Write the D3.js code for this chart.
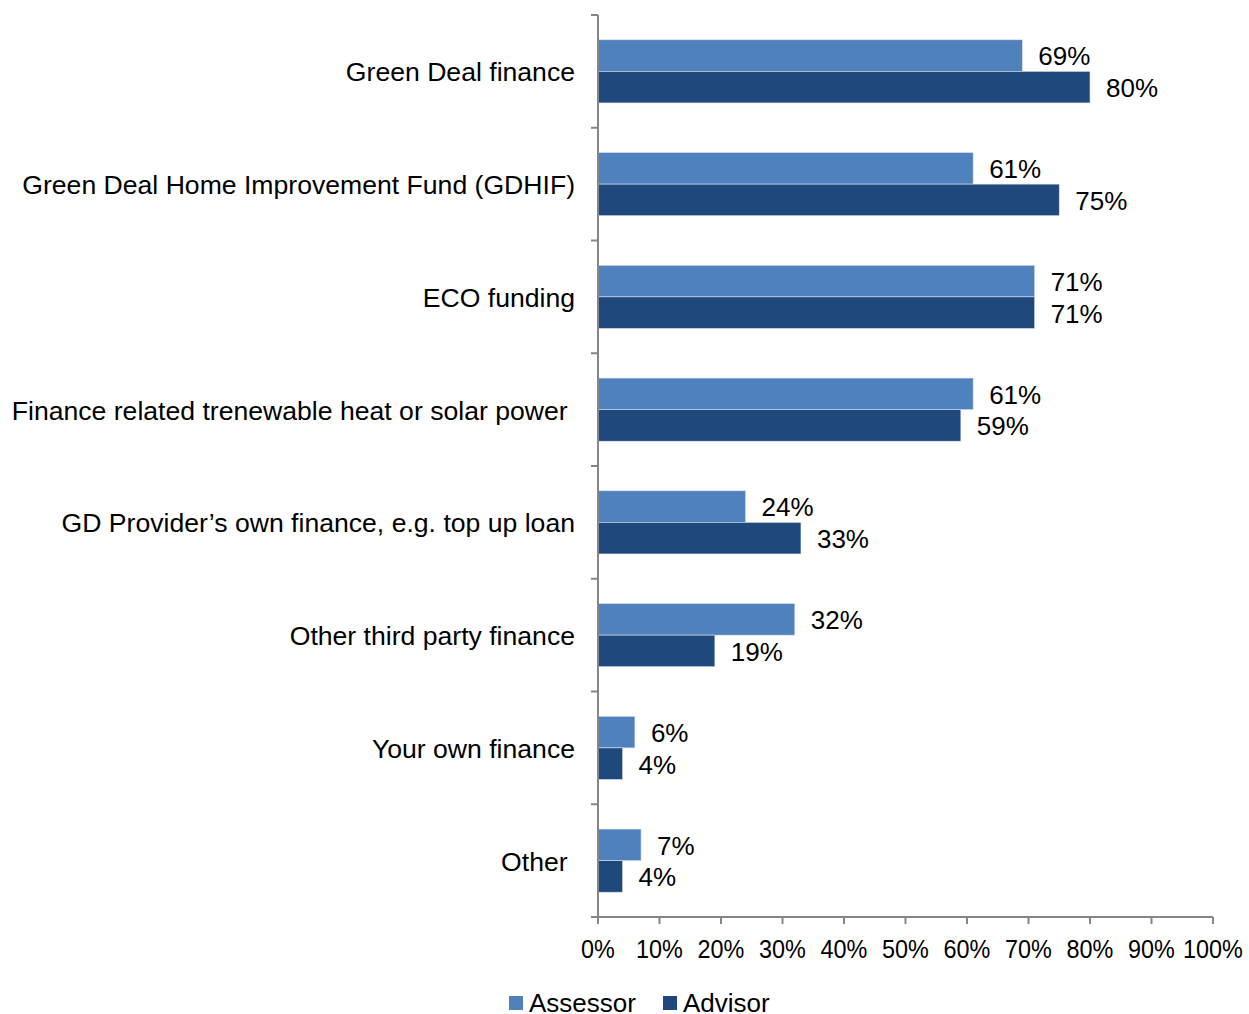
<!DOCTYPE html>
<html lang="en">
<head>
    <meta charset="UTF-8"/>
    <title>Finance options</title>
    <script src="https://d3js.org/d3.v7.min.js"></script>
    <style>
        body { margin: 0; background: #fff; }
        text { font-family: "Liberation Sans", Arial, sans-serif; fill: #000; }
    </style>
</head>
<body>
    <script>
        var w = 1249;
        var h = 1014;

        var categories = [
            "Green Deal finance",
            "Green Deal Home Improvement Fund (GDHIF)",
            "ECO funding",
            "Finance related trenewable heat or solar power ",
            "GD Provider\u2019s own finance, e.g. top up loan",
            "Other third party finance",
            "Your own finance",
            "Other "
        ];
        var seriesNames = ["Assessor", "Advisor"];
        var assessor = [69, 61, 71, 61, 24, 32, 6, 7];
        var advisor = [80, 75, 71, 59, 33, 19, 4, 4];
        var xTicks = [0, 10, 20, 30, 40, 50, 60, 70, 80, 90, 100];
        var colors = ["#4F81BD", "#1F497D"];

        var plotLeft = 598, plotRight = 1213, plotTop = 15, plotBottom = 917;

        var svg = d3.select("body")
                    .append("svg")
                    .attr("width", w)
                    .attr("height", h);

        var xScale = d3.scaleLinear()
                        .domain([0, 100])
                        .range([plotLeft, plotRight]);

        var yScale = d3.scaleBand()
                        .domain(categories)
                        .range([plotTop, plotBottom])
                        .paddingInner(0.44)
                        .paddingOuter(0.22);

        var subScale = d3.scaleBand()
                          .domain(seriesNames)
                          .range([0, yScale.bandwidth()]);

        var rows = categories.map(function(c, i) {
            return { cat: c, values: [assessor[i], advisor[i]] };
        });

        // bars
        var groups = svg.selectAll("g.row")
            .data(rows)
            .enter()
            .append("g")
            .attr("class", "row")
            .attr("transform", function(d) { return "translate(0," + yScale(d.cat) + ")"; });

        groups.selectAll("rect")
            .data(function(d) { return d.values.map(function(v, j) { return { s: seriesNames[j], v: v, j: j }; }); })
            .enter()
            .append("rect")
            .attr("x", xScale(0))
            .attr("y", function(d) { return subScale(d.s); })
            .attr("width", function(d) { return xScale(d.v) - xScale(0); })
            .attr("height", subScale.bandwidth())
            .attr("fill", function(d) { return colors[d.j]; })
            .attr("stroke", "#d9e1ec")
            .attr("stroke-width", 0.6);

        groups.selectAll("text.val")
            .data(function(d) { return d.values.map(function(v, j) { return { s: seriesNames[j], v: v }; }); })
            .enter()
            .append("text")
            .attr("class", "val")
            .attr("x", function(d) { return xScale(d.v) + 16; })
            .attr("y", function(d) { return subScale(d.s) + subScale.bandwidth() / 2; })
            .attr("dy", "0.38em")
            .attr("font-size", "26px")
            .text(function(d) { return d.v + "%"; });

        // y axis
        var step = yScale.step();
        var axisColor = "#868686";
        svg.append("line")
           .attr("x1", plotLeft).attr("x2", plotLeft)
           .attr("y1", plotTop).attr("y2", plotBottom)
           .attr("stroke", axisColor).attr("stroke-width", 2);

        svg.selectAll("line.ytick")
           .data(d3.range(categories.length + 1))
           .enter()
           .append("line")
           .attr("class", "ytick")
           .attr("x1", plotLeft - 7).attr("x2", plotLeft)
           .attr("y1", function(i) { return plotTop + i * step; })
           .attr("y2", function(i) { return plotTop + i * step; })
           .attr("stroke", axisColor).attr("stroke-width", 2);

        svg.selectAll("text.cat")
           .data(categories)
           .enter()
           .append("text")
           .attr("class", "cat")
           .attr("x", plotLeft - 23)
           .attr("y", function(d) { return yScale(d) + yScale.bandwidth() / 2; })
           .attr("dy", "0.38em")
           .attr("text-anchor", "end")
           .attr("font-size", "26.6px")
           .style("white-space", "pre")
           .text(function(d) { return d; });

        // x axis
        svg.append("line")
           .attr("x1", plotLeft).attr("x2", plotRight)
           .attr("y1", plotBottom).attr("y2", plotBottom)
           .attr("stroke", axisColor).attr("stroke-width", 2);

        svg.selectAll("line.xtick")
           .data(xTicks)
           .enter()
           .append("line")
           .attr("class", "xtick")
           .attr("x1", function(d) { return xScale(d); })
           .attr("x2", function(d) { return xScale(d); })
           .attr("y1", plotBottom).attr("y2", plotBottom + 7)
           .attr("stroke", axisColor).attr("stroke-width", 2);

        svg.selectAll("text.xlab")
           .data(xTicks)
           .enter()
           .append("text")
           .attr("class", "xlab")
           .attr("transform", function(d) { return "translate(" + xScale(d) + "," + (plotBottom + 41) + ") scale(0.9,1)"; })
           .attr("text-anchor", "middle")
           .attr("font-size", "26px")
           .text(function(d) { return d + "%"; });

        // legend
        var legendX = [509, 663];
        var legend = svg.selectAll("g.legend")
           .data(seriesNames)
           .enter()
           .append("g")
           .attr("class", "legend")
           .attr("transform", function(d, i) { return "translate(" + legendX[i] + ",996)"; });

        legend.append("rect")
              .attr("width", 14).attr("height", 14)
              .attr("fill", function(d, i) { return colors[i]; });

        legend.append("text")
              .attr("x", 20).attr("y", 7)
              .attr("dy", "0.35em")
              .attr("font-size", "26px")
              .text(function(d) { return d; });
    </script>
</body>
</html>
